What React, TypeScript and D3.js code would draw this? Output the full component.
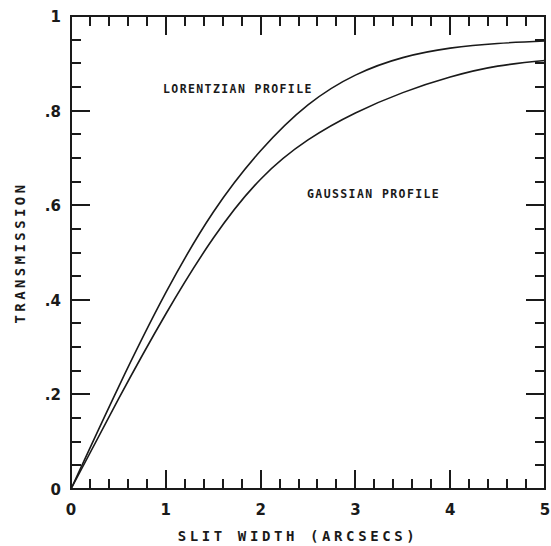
import React from "react";
import * as d3 from "d3";

const lorentzX = [0, 0.5, 1.0, 1.5, 2.0, 2.5, 3.0, 3.5, 4.0, 4.5, 5.0];
const lorentzY = [0, 0.215, 0.415, 0.585, 0.715, 0.812, 0.875, 0.912, 0.932, 0.942, 0.947];
const gaussX = [0, 0.5, 1.0, 1.5, 2.0, 2.5, 3.0, 3.5, 4.0, 4.5, 5.0];
const gaussY = [0, 0.19, 0.37, 0.53, 0.655, 0.738, 0.795, 0.838, 0.871, 0.894, 0.906];
const xTickLabels = ["0", "1", "2", "3", "4", "5"];
const yTickValues = [0, 0.2, 0.4, 0.6, 0.8, 1];
const yTickLabels = ["0", ".2", ".4", ".6", ".8", "1"];

export default function App() {
  const W = 551, H = 546;
  const L = 71, R = 545, T = 16, B = 489;
  const x = d3.scaleLinear().domain([0, 5]).range([L, R]);
  const y = d3.scaleLinear().domain([0, 1]).range([B, T]);
  const ink = "#1a1a1a";
  const line = d3.line<[number, number]>().x(d => x(d[0])).y(d => y(d[1])).curve(d3.curveNatural);
  const lData = lorentzX.map((v, i) => [v, lorentzY[i]] as [number, number]);
  const gData = gaussX.map((v, i) => [v, gaussY[i]] as [number, number]);

  const minorLen = 10, majorLen = 19;
  let tickPath = "";
  for (let i = 0; i <= 25; i++) {
    const len = i % 5 === 0 ? majorLen : minorLen;
    const px = Math.round(x(i * 0.2));
    tickPath += `M${px},${B}V${B - len}M${px},${T}V${T + len}`;
  }
  for (let i = 0; i <= 20; i++) {
    const len = i % 4 === 0 ? majorLen : minorLen;
    const py = Math.round(y(i * 0.05));
    tickPath += `M${L},${py}H${L + len}M${R},${py}H${R - len}`;
  }
  const frame = `M${L},${T}L${R},${T}L${R},${B}L${L},${B}Z`;
  const mono = "'DejaVu Sans Mono', monospace";
  const sans = "'DejaVu Sans', 'Liberation Sans', sans-serif";

  return (
    <svg width={W} height={H} style={{ position: "absolute", left: 0, top: 0, background: "#fff" }}>
      <path d={frame} fill="none" stroke={ink} strokeWidth={2} />
      <path d={tickPath} fill="none" stroke={ink} strokeWidth={2} />
      <path d={line(lData) || ""} fill="none" stroke={ink} strokeWidth={1.6} />
      <path d={line(gData) || ""} fill="none" stroke={ink} strokeWidth={1.6} />
      {xTickLabels.map((t, i) => (
        <text key={"xl" + i} x={x(+t)} y={515} textAnchor="middle" fontFamily={sans} fontWeight="bold" fontSize={15} fill={ink}>{t}</text>
      ))}
      {yTickValues.map((v, i) => (
        <text key={"yv" + i} x={61} y={y(v) + 6} textAnchor="end" fontFamily={sans} fontWeight="bold" fontSize={15} fill={ink}>{yTickLabels[i]}</text>
      ))}
      <text x={163} y={93} fontFamily={mono} fontWeight="bold" fontSize={11.5} letterSpacing={1.4} fill={ink}>LORENTZIAN PROFILE</text>
      <text x={307} y={198} fontFamily={mono} fontWeight="bold" fontSize={11.5} letterSpacing={1.4} fill={ink}>GAUSSIAN PROFILE</text>
      <text x={298} y={541} textAnchor="middle" fontFamily={mono} fontWeight="bold" fontSize={14} letterSpacing={3.6} fill={ink}>SLIT WIDTH (ARCSECS)</text>
      <text transform={`translate(25,${(T + B) / 2}) rotate(-90)`} textAnchor="middle" fontFamily={mono} fontWeight="bold" fontSize={14} letterSpacing={3.4} fill={ink}>TRANSMISSION</text>
    </svg>
  );
}
